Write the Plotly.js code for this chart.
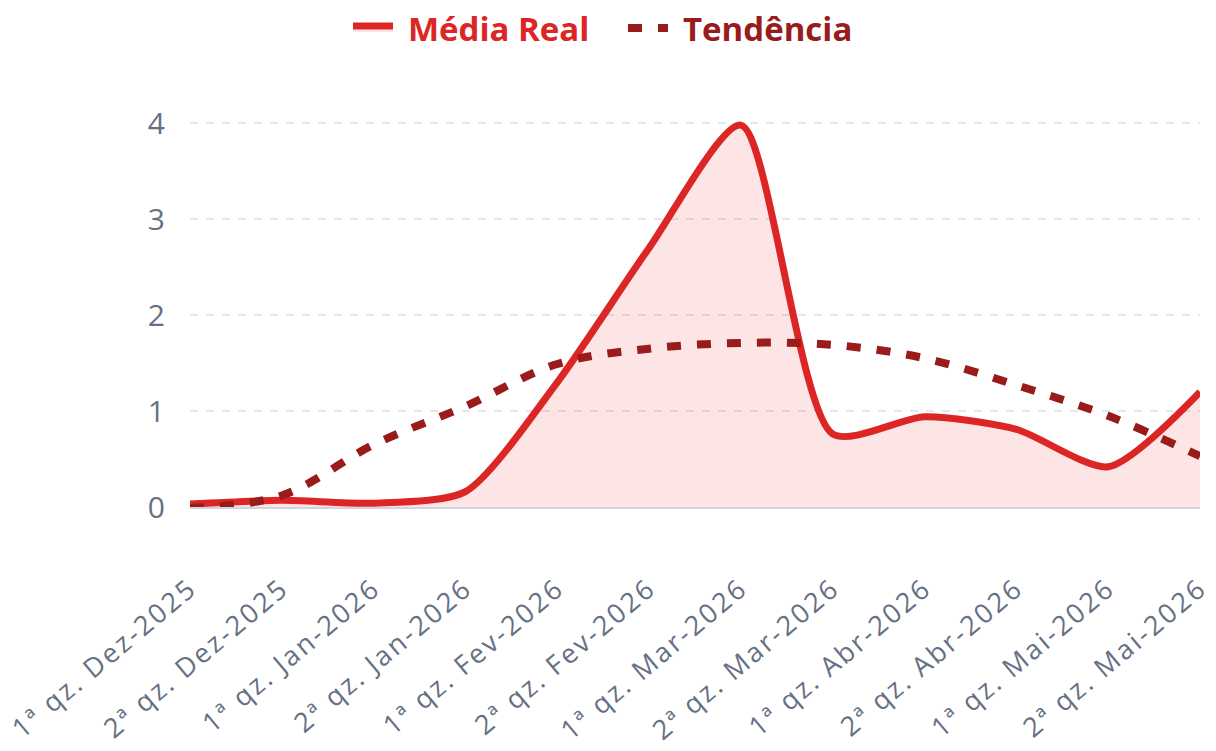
<!DOCTYPE html>
<html>
<head>
<meta charset="utf-8">
<script src="https://cdn.plot.ly/plotly-3.0.1.min.js"></script>
<style>html,body{margin:0;padding:0;background:#fff;}#chart{width:1216px;height:751px;}
.xtick text{letter-spacing:2.5px;}</style>
</head>
<body>
<div id="chart"></div>
<script>
const categories = ["1ª qz. Dez-2025","2ª qz. Dez-2025","1ª qz. Jan-2026","2ª qz. Jan-2026","1ª qz. Fev-2026","2ª qz. Fev-2026","1ª qz. Mar-2026","2ª qz. Mar-2026","1ª qz. Abr-2026","2ª qz. Abr-2026","1ª qz. Mai-2026","2ª qz. Mai-2026"];
const mediaReal = [0.03, 0.07, 0.04, 0.16, 1.3, 2.7, 3.98, 0.76, 0.94, 0.81, 0.42, 1.2];
const tendencia = [-0.01, 0.12, 0.65, 1.05, 1.49, 1.65, 1.71, 1.69, 1.55, 1.27, 0.95, 0.53];
const yTicks = [0, 1, 2, 3, 4];

const traces = [
  {
    x: categories, y: mediaReal, name: "Média Real", type: "scatter", mode: "lines",
    line: {color: "#dc2626", width: 7, shape: "spline", smoothing: 0.7},
    fill: "tozeroy", fillcolor: "rgba(239,68,68,0.14)"
  },
  {
    x: categories, y: tendencia, name: "Tendência", type: "scatter", mode: "lines",
    line: {color: "#991b1b", width: 8, shape: "spline", smoothing: 1, dash: "14px,16px"}
  }
];

const layout = {
  width: 1216, height: 751,
  paper_bgcolor: "#ffffff", plot_bgcolor: "#ffffff",
  margin: {l: 190, r: 16, t: 104, b: 244},
  font: {family: "'Open Sans', 'Noto Sans', sans-serif", color: "#667085"},
  showlegend: true,
  legend: {
    orientation: "h", x: 348 / 1216, xanchor: "left", xref: "container",
    y: 1.0, yref: "container", yanchor: "top",
    font: {size: 33, family: "'Open Sans', sans-serif", weight: 700},
    itemwidth: 40, entrywidth: 220, entrywidthmode: "pixels"
  },
  xaxis: {
    type: "category", range: [0, 11],
    tickangle: -40, tickfont: {size: 27, color: "#667085"},
    showgrid: false, zeroline: false,
    showline: true, linecolor: "#cfd5de", linewidth: 2,
    ticks: "", ticklabelstandoff: 53
  },
  yaxis: {
    range: [0, 4.2], tickvals: yTicks, ticktext: yTicks.map(String),
    tickfont: {size: 30, color: "#667085"},
    showgrid: true, gridcolor: "#e3e6ec", gridwidth: 2, griddash: "8px,8px",
    zeroline: false, showline: false, ticks: "", ticklabelstandoff: 24
  }
};

Plotly.newPlot("chart", traces, layout, {displayModeBar: false, staticPlot: true}).then(function(){
  const items = document.querySelectorAll(".legend .traces");
  const cols = ["#dc2626", "#991b1b"];
  items.forEach(function(it, i){
    const t = it.querySelector("text.legendtext");
    if (t) {
      t.style.fill = cols[i];
      const x0 = parseFloat(t.getAttribute("x") || "0");
      t.setAttribute("x", x0 + 10);
    }
  });
});
</script>
</body>
</html>
